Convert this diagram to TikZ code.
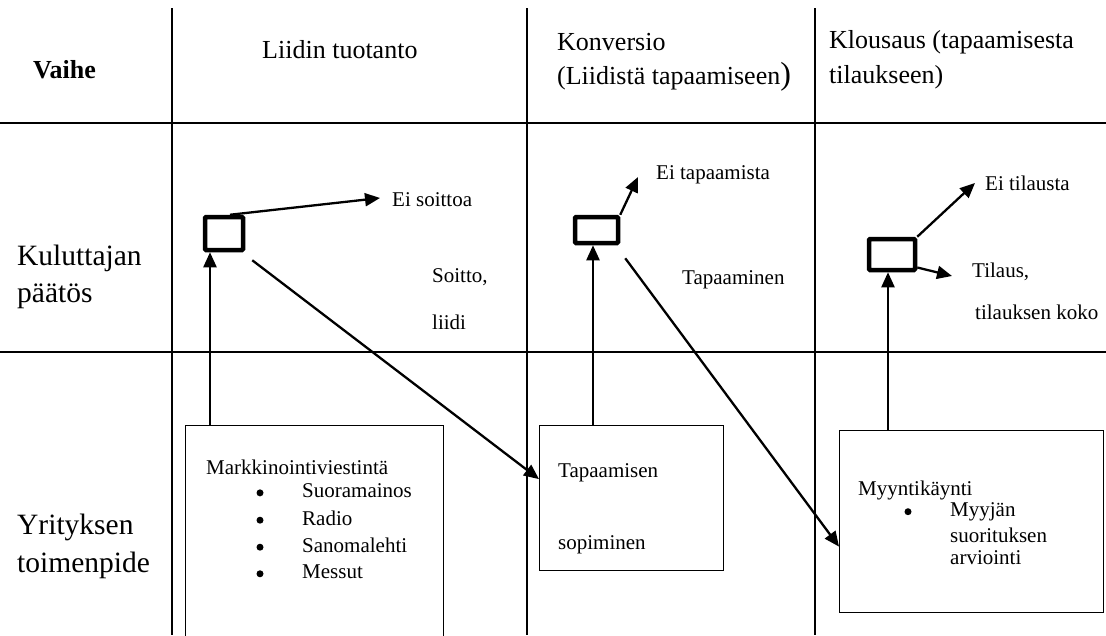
\documentclass[tikz,border=0pt]{standalone}
\usepackage{fontspec}
\setmainfont{Liberation Serif}
\usetikzlibrary{arrows.meta,calc}
\begin{document}
\begin{tikzpicture}[x=1pt,y=-1pt,
  gridline/.style={line width=1.5pt},
  conn/.style={line width=2.3pt,-{Triangle[length=15pt,width=13pt]}},
  dbox/.style={draw,line width=4.5pt,rounded corners=1pt,inner sep=0pt},
  abox/.style={draw,line width=1.2pt,inner sep=0pt,anchor=north west},
  big/.style={font=\fontsize{26}{30}\selectfont,anchor=west,inner sep=0pt},
  rowl/.style={font=\fontsize{29.5}{33}\selectfont,anchor=west,inner sep=0pt},
  txt/.style={font=\fontsize{21}{25}\selectfont,anchor=west,inner sep=0pt},
  bul/.style={circle,fill,inner sep=0pt,minimum size=7pt},
]
\clip (0,0) rectangle (1106,635);
\fill[white] (0,0) rectangle (1106,635);

% grid
\draw[gridline] (0,123) -- (1106,123);
\draw[gridline] (0,352) -- (1106,352);
\draw[gridline] (172,8) -- (172,635);
\draw[gridline] (527,8) -- (527,635);
\draw[gridline] (815,8) -- (815,635);

% headers
\node[big,font=\fontsize{26}{30}\selectfont\bfseries] (hv) at (33,70) {Vaihe};
\node[big] (h1) at (262,50) {Liidin tuotanto};
\node[big] (h2a) at (557,42) {Konversio};
\node[big] (h2b) at (557,77) {(Liidistä tapaamiseen{\fontsize{32}{32}\selectfont )}};
\node[big] (h3a) at (829,42) {Klousaus (tapaamisesta};
\node[big] (h3b) at (829,77) {tilaukseen)};

% row labels
\node[rowl] (r1a) at (17,258) {Kuluttajan};
\node[rowl] (r1b) at (17,296) {päätös};
\node[rowl] (r2a) at (17,527) {Yrityksen};
\node[rowl] (r2b) at (17,565) {toimenpide};

% decision boxes
\node[dbox,minimum width=38pt,minimum height=33pt] (d1) at (224,233.5) {};
\node[dbox,minimum width=43pt,minimum height=26pt] (d2) at (596.5,230) {};
\node[dbox,minimum width=46pt,minimum height=31pt] (d3) at (892,254.5) {};

% action boxes
\node[abox,minimum width=258pt,minimum height=215pt] (b1) at (185,425) {};
\node[abox,minimum width=184pt,minimum height=145pt] (b2) at (539,425) {};
\node[abox,minimum width=264pt,minimum height=182pt] (b3) at (839,430) {};

% box texts
\node[txt] (m0) at (206,467) {Markkinointiviestintä};
\node[txt] (m1) at (302,491) {Suoramainos};
\node[txt] (m2) at (302,518) {Radio};
\node[txt] (m3) at (302,545) {Sanomalehti};
\node[txt] (m4) at (302,572) {Messut};
\foreach \n in {1,2,3,4}
  \node[bul] (mb\n) at ($(m\n.base west)+(-42,-5)$) {};

\node[txt] (t1) at (558,473) {Tapaamisen};
\node[txt] (t2) at (558,545) {sopiminen};

\node[txt] (y0) at (858,490) {Myyntikäynti};
\node[txt] (y1) at (950,512) {Myyjän};
\node[txt] (y2) at (950,535) {suorituksen};
\node[txt] (y3) at (950,558) {arviointi};
\node[bul] (yb) at ($(y1.base west)+(-42,-5)$) {};

% outcome labels
\node[txt] (es1) at (392,200) {Ei soittoa};
\node[txt] (so1) at (432,277) {Soitto,};
\node[txt] (so2) at (432,322) {liidi};
\node[txt] (et2) at (656,175) {Ei tapaamista};
\node[txt] (tp2) at (682,280) {Tapaaminen};
\node[txt] (eti) at (985,183) {Ei tilausta};
\node[txt] (til) at (972,272) {Tilaus,};
\node[txt] (tik) at (975,312) {tilauksen koko};

% connectors
\draw[conn] ([xshift=25pt]b1.north west) -- ([xshift=25pt]b1.north west |- d1.south);
\draw[conn] ([xshift=6pt]d1.north) -- ([shift={(-12,-2)}]es1.west);
\draw[conn] ([shift={(7,8)}]d1.south east) -- ([shift={(0,-19)}]b2.west);

\draw[conn] ([xshift=54pt]b2.north west) -- ([xshift=54pt]b2.north west |- d2.south);
\draw[conn] (d2.north east) -- ([shift={(-18,2)}]et2.west);
\draw[conn] ([shift={(5,13)}]d2.south east) -- ([shift={(0,25)}]b3.west);

\draw[conn] ([xshift=49pt]b3.north west) -- ([xshift=49pt]b3.north west |- d3.south);
\draw[conn] (d3.north east) -- ([shift={(-10,0)}]eti.west);
\draw[conn] ([yshift=-13pt]d3.east) -- ([shift={(-20,4)}]til.west);
\end{tikzpicture}
\end{document}
